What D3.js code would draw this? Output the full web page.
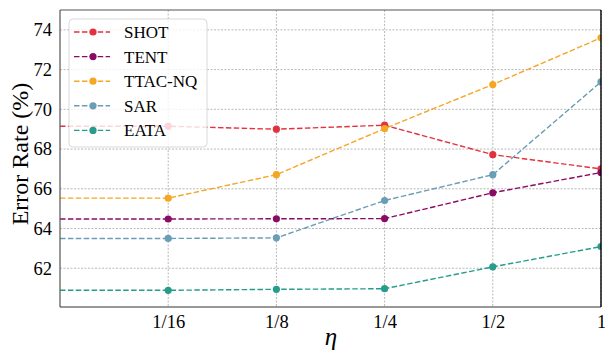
<!DOCTYPE html>
<html>
<head>
<meta charset="utf-8">
<script src="https://cdn.jsdelivr.net/npm/d3@7"></script>
<style>
  body { margin: 0; background: #fff; }
</style>
</head>
<body>
<div id="chart"></div>
<script>
// eta values on the x axis (first one sits on the left spine, no label)
const categories = ['1/32', '1/16', '1/8', '1/4', '1/2', '1'];
const tickLabels = ['', '1/16', '1/8', '1/4', '1/2', '1'];
const yTicks = [62, 64, 66, 68, 70, 72, 74];

const shot = [69.15, 69.15, 69.0, 69.2, 67.72, 67.0];
const tent = [64.48, 64.48, 64.49, 64.5, 65.8, 66.82];
const ttac = [65.53, 65.53, 66.71, 69.03, 71.25, 73.6];
const sar = [63.5, 63.5, 63.53, 65.41, 66.71, 71.38];
const eata = [60.89, 60.89, 60.94, 60.97, 62.07, 63.09];

const series = [
  { name: 'SHOT', values: shot, color: '#e2323f' },
  { name: 'TENT', values: tent, color: '#8a0b66' },
  { name: 'TTAC-NQ', values: ttac, color: '#f5a623' },
  { name: 'SAR', values: sar, color: '#6a9db6' },
  { name: 'EATA', values: eata, color: '#269c8c' }
];

const width = 605, height = 356;
const box = { left: 60, right: 601, top: 10, bottom: 307 };
const serif = "'Liberation Serif', 'Times New Roman', Times, 'DejaVu Serif', serif";

const svg = d3.select('#chart')
  .append('svg')
  .attr('width', width)
  .attr('height', height)
  .attr('font-family', serif);

const x = d3.scaleLinear()
  .domain([0, categories.length - 1])
  .range([box.left, box.right]);

const y = d3.scaleLinear()
  .domain([60.05, 75])
  .range([box.bottom, box.top]);

svg.append('clipPath').attr('id', 'plot-clip')
  .append('rect')
  .attr('x', box.left).attr('y', box.top)
  .attr('width', box.right - box.left).attr('height', box.bottom - box.top);

// grid
svg.selectAll('.x-grid')
  .data(categories.slice(1))
  .enter()
  .append('line')
  .attr('class', 'x-grid')
  .attr('x1', (d, i) => x(i + 1))
  .attr('x2', (d, i) => x(i + 1))
  .attr('y1', box.top)
  .attr('y2', box.bottom)
  .attr('stroke', '#b0b0b0')
  .attr('stroke-width', 0.9)
  .attr('stroke-dasharray', '2,1.5');

svg.selectAll('.y-grid')
  .data(yTicks)
  .enter()
  .append('line')
  .attr('class', 'y-grid')
  .attr('x1', box.left)
  .attr('x2', box.right)
  .attr('y1', d => y(d))
  .attr('y2', d => y(d))
  .attr('stroke', '#b0b0b0')
  .attr('stroke-width', 0.9)
  .attr('stroke-dasharray', '2,1.5');

// lines + markers
const plot = svg.append('g').attr('clip-path', 'url(#plot-clip)');

const line = d3.line()
  .x((d, i) => x(i))
  .y(d => y(d));

series.forEach(s => {
  plot.append('path')
    .datum(s.values)
    .attr('fill', 'none')
    .attr('stroke', s.color)
    .attr('stroke-width', 1.4)
    .attr('stroke-dasharray', '5.5,2.4')
    .attr('d', line);

  plot.selectAll(null)
    .data(s.values.map((v, i) => [i, v]).slice(1))
    .enter()
    .append('circle')
    .attr('cx', d => x(d[0]))
    .attr('cy', d => y(d[1]))
    .attr('r', 3.6)
    .attr('fill', s.color);
});

// spines
svg.append('line').attr('x1', box.left).attr('x2', box.right).attr('y1', box.top).attr('y2', box.top)
  .attr('stroke', '#555').attr('stroke-width', 1.2);
svg.append('line').attr('x1', box.left).attr('x2', box.left).attr('y1', box.top).attr('y2', box.bottom)
  .attr('stroke', '#555').attr('stroke-width', 1.2);
svg.append('line').attr('x1', box.left).attr('x2', box.right).attr('y1', box.bottom).attr('y2', box.bottom)
  .attr('stroke', '#333').attr('stroke-width', 1.2);
svg.append('line').attr('x1', box.right).attr('x2', box.right).attr('y1', box.top).attr('y2', box.bottom)
  .attr('stroke', '#000').attr('stroke-width', 1.4);

// axes
const xAxis = d3.axisBottom(x)
  .tickValues(d3.range(1, categories.length))
  .tickFormat(i => tickLabels[i])
  .tickSize(0)
  .tickPadding(7.5);
const gx = svg.append('g')
  .attr('transform', `translate(0, ${box.bottom})`)
  .call(xAxis)
  .attr('font-family', serif)
  .attr('font-size', 18.5);
gx.select('.domain').remove();
gx.selectAll('text').attr('fill', '#000');

const yAxis = d3.axisLeft(y)
  .tickValues(yTicks)
  .tickSize(0)
  .tickPadding(8);
const gy = svg.append('g')
  .attr('transform', `translate(${box.left}, 0)`)
  .call(yAxis)
  .attr('font-family', serif)
  .attr('font-size', 18.5);
gy.select('.domain').remove();
gy.selectAll('text').attr('fill', '#000');

// axis titles
svg.append('text')
  .attr('transform', 'translate(28, 154) rotate(-90)')
  .attr('text-anchor', 'middle')
  .attr('font-size', 24)
  .text('Error Rate (%)');

svg.append('text')
  .attr('x', 331)
  .attr('y', 345)
  .attr('text-anchor', 'middle')
  .attr('font-size', 25)
  .attr('font-style', 'italic')
  .text('η');

// legend
const legend = svg.append('g');
legend.append('rect')
  .attr('x', 69).attr('y', 19)
  .attr('width', 138).attr('height', 128)
  .attr('rx', 4)
  .attr('fill', '#fff')
  .attr('fill-opacity', 0.8)
  .attr('stroke', '#d9d9d9')
  .attr('stroke-width', 1);

series.forEach((s, i) => {
  const ly = 32 + i * 24.6;
  legend.append('line')
    .attr('x1', 74).attr('x2', 110)
    .attr('y1', ly).attr('y2', ly)
    .attr('stroke', s.color)
    .attr('stroke-width', 1.4)
    .attr('stroke-dasharray', '5.5,2.4');
  legend.append('circle')
    .attr('cx', 93).attr('cy', ly).attr('r', 3.6)
    .attr('fill', s.color);
  legend.append('text')
    .attr('x', 124).attr('y', ly + 6)
    .attr('font-size', 17)
    .text(s.name);
});
</script>
</body>
</html>
